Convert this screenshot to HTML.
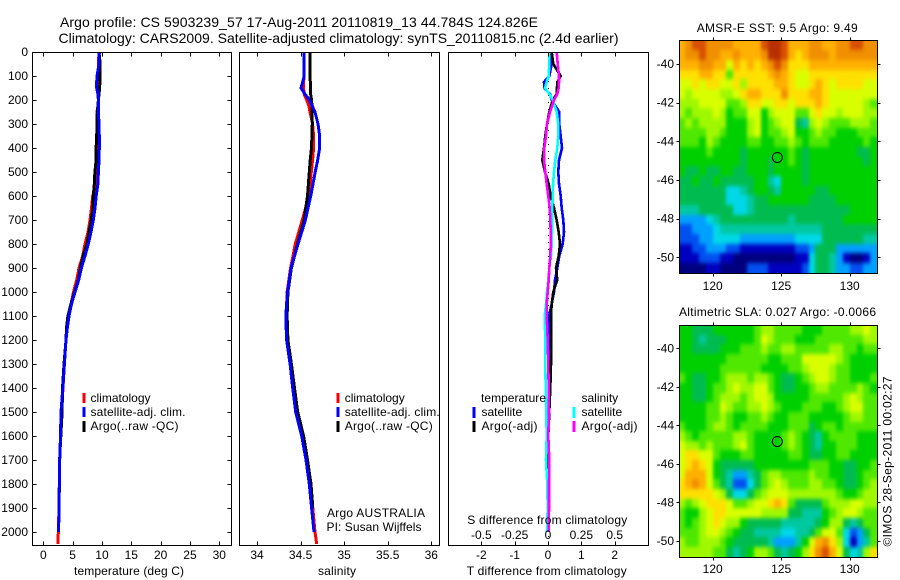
<!DOCTYPE html>
<html>
<head>
<meta charset="utf-8">
<title>Argo profile</title>
<style>
html,body{margin:0;padding:0;background:#fff;width:900px;height:580px;overflow:hidden}
svg{display:block}
text{font-family:"Liberation Sans",sans-serif;font-size:12px;fill:#000}
.t{font-size:14px}
</style>
</head>
<body>
<svg id="fig" xmlns="http://www.w3.org/2000/svg" width="900" height="580" viewBox="0 0 900 580">
  <defs>
    <filter id="map-smooth" filterUnits="userSpaceOnUse" x="660" y="20" width="230" height="550" color-interpolation-filters="sRGB">
      <feGaussianBlur stdDeviation="1.6 2.2"/>
      <feComponentTransfer><feFuncA type="discrete" tableValues="1 1"/></feComponentTransfer>
    </filter>
    <clipPath id="clip-sst-map"><rect x="679.5" y="40.5" width="198" height="233"/></clipPath>
    <clipPath id="clip-sla-map"><rect x="679.5" y="325.5" width="198" height="232"/></clipPath>
  </defs>
  <text class="t" x="60" y="27" textLength="478">Argo profile: CS 5903239_57 17-Aug-2011 20110819_13 44.784S 124.826E</text>
  <text class="t" x="58.5" y="43" textLength="560">Climatology: CARS2009. Satellite-adjusted climatology: synTS_20110815.nc (2.4d earlier)</text>

  <g id="layer-maps"></g>
  <g id="layer-lines"></g>
  <g id="layer-axes" shape-rendering="crispEdges"></g>

  <text x="74" y="575" textLength="110">temperature (deg C)</text>
  <text x="318" y="575" textLength="38">salinity</text>
  <text x="466.7" y="575" textLength="160">T difference from climatology</text>
  <text x="467.3" y="524" textLength="160">S difference from climatology</text>

  <g>
    <rect x="82.5" y="393" width="3" height="10" fill="#f00"/>
    <rect x="82.5" y="407" width="3" height="10" fill="#00f"/>
    <rect x="82.5" y="421" width="3" height="11" fill="#000"/>
    <text x="90.5" y="402">climatology</text>
    <text x="90.5" y="416" textLength="95">satellite-adj. clim.</text>
    <text x="90.5" y="430" textLength="88">Argo(..raw -QC)</text>
  </g>
  <g>
    <rect x="336.5" y="393" width="3" height="10" fill="#f00"/>
    <rect x="336.5" y="407" width="3" height="10" fill="#00f"/>
    <rect x="336.5" y="421" width="3" height="11" fill="#000"/>
    <text x="344.7" y="402">climatology</text>
    <text x="344.7" y="416" textLength="95">satellite-adj. clim.</text>
    <text x="344.7" y="430" textLength="88">Argo(..raw -QC)</text>
    <text x="327" y="517" textLength="98">Argo AUSTRALIA</text>
    <text x="326.5" y="531" textLength="95">PI: Susan Wijffels</text>
  </g>
  <g>
    <text x="481" y="402" textLength="65">temperature</text>
    <text x="581.5" y="402">salinity</text>
    <rect x="472.5" y="407" width="3" height="11" fill="#00f"/>
    <rect x="472.5" y="421" width="3" height="11" fill="#000"/>
    <rect x="572.5" y="407" width="3" height="11" fill="#0ff"/>
    <rect x="572.5" y="421" width="3" height="11" fill="#f0f"/>
    <text x="481.5" y="416">satellite</text>
    <text x="481.5" y="430" textLength="56">Argo(-adj)</text>
    <text x="581.5" y="416">satellite</text>
    <text x="581.5" y="430" textLength="56">Argo(-adj)</text>
  </g>

  <text x="696.7" y="32" textLength="161">AMSR-E SST: 9.5 Argo: 9.49</text>
  <text x="679" y="316" textLength="197">Altimetric SLA: 0.027 Argo: -0.0066</text>
  <text transform="translate(891.5,546.5) rotate(-90)" textLength="170">©IMOS 28-Sep-2011 00:02:27</text>
</svg>
<script>
const tempDepths = [0,50,100,125,150,175,200,225,250,300,350,400,450,500,550,600,650,700,750,800,850,900,950,1000,1050,1100,1150,1200,1300,1400,1500,1600,1700,1800,1900,2000,2050];
const tempClimatology = [9.5,9.4,9.4,9.4,9.4,9.4,9.4,9.3,9.15,9.3,9.3,9.3,9.3,9.2,9.0,8.42,8.22,7.96,7.62,7.1,6.72,6.08,5.69,5.15,4.72,4.3,4.04,3.87,3.6,3.36,3.1,2.96,2.8,2.73,2.68,2.56,2.5];
const tempSatellite = [9.55,9.5,9.15,9.1,9.1,9.3,9.4,9.4,9.4,9.5,9.55,9.55,9.5,9.4,9.3,9.02,8.81,8.52,8.13,7.67,7.1,6.5,6.03,5.4,4.8,4.38,4.09,3.87,3.6,3.32,3.02,2.93,2.8,2.73,2.68,2.6];
const tempArgo = [9.5,9.7,9.65,9.65,9.6,9.5,9.4,9.3,9.2,9.15,9.1,9.0,9.0,8.8,8.7,8.52,8.47,8.18,7.8,7.45,6.77,6.34,5.97,5.32,4.72,4.2,3.95,3.87,3.53,3.27,3.2,2.98,2.78,2.75,2.68,2.6];

const salDepths = [0,50,100,125,150,175,200,225,250,300,350,400,450,500,550,600,700,800,900,1000,1100,1200,1300,1400,1500,1600,1700,1800,1900,2000,2050];
const salClimatology = [34.54,34.54,34.54,34.535,34.535,34.54,34.57,34.596,34.608,34.638,34.65,34.65,34.638,34.623,34.61,34.596,34.52,34.44,34.385,34.345,34.335,34.35,34.385,34.425,34.46,34.52,34.57,34.61,34.64,34.665,34.685];
const salSatellite = [34.54,34.54,34.54,34.524,34.505,34.55,34.60,34.635,34.665,34.70,34.72,34.72,34.696,34.668,34.642,34.616,34.555,34.47,34.39,34.35,34.33,34.34,34.38,34.41,34.444,34.513,34.562,34.60,34.627,34.654];
const salArgo = [34.608,34.608,34.608,34.612,34.612,34.615,34.627,34.63,34.632,34.634,34.63,34.625,34.61,34.60,34.59,34.58,34.54,34.465,34.395,34.355,34.345,34.355,34.395,34.43,34.467,34.535,34.58,34.62,34.64];

const diffDepths = [0,50,100,125,150,175,200,250,300,350,400,450,500,550,600,650,700,750,800,850,900,950,1000,1050,1100,1200,1300,1400,1500,1600,1700,1800,1900,2000];
const diffTempSatellite = [.10,.11,.04,-.12,-.11,.06,.11,.34,.34,.38,.42,.33,.31,.33,.38,.41,.46,.48,.44,.34,.28,.21,.18,.11,.03,.04,.04,.03,.02,.01,.01,.01,.01,.02];
const diffTempArgo = [.11,.16,.38,.28,.27,.26,.14,.04,-.03,-.08,-.12,-.17,-.09,.02,.08,.18,.26,.32,.36,.32,.24,.28,.16,.11,.09,.10,.09,.07,.04,.01,.01,.01,.01];
const diffSalSatellite = [.01,.01,.005,-.01,-.0225,.01,.035,.065,.0775,.0775,.07,.055,.045,.0375,.035,.0325,.0325,.03,.0275,.0225,.01,.0025,-.0075,-.015,-.025,-.02,-.02,-.0175,-.0125,-.01,-.015,-.005,-.0025,-.0075];
const diffSalArgo = [.065,.0725,.0825,.0825,.08,.07,.045,.015,-.0075,-.015,-.0275,-.03,-.02,-.01,.0025,.0125,.0175,.02,.02,.0175,.01,.005,-.0025,-.01,-.01,-.0025,.0025,.005,.0075,.0025,.01,.0075,.0075,.005];

const depthTicks = [0,100,200,300,400,500,600,700,800,900,1000,1100,1200,1300,1400,1500,1600,1700,1800,1900,2000];
const tempTicks = [0,5,10,15,20,25,30];
const salTicks = [34,34.5,35,35.5,36];
const salTickLabels = ["34","34.5","35","35.5","36"];
const diffTempTicks = [-2,-1,0,1,2];
const diffTempTickLabels = ["-2","-1","0","1","2"];
const diffSalLabelTicks = [-0.5,-0.25,0,0.25,0.5];
const diffSalTickLabels = ["-0.5","-0.25","0","0.25","0.5"];
const lonTicks = [120,125,130];
const latTicks = [-40,-42,-44,-46,-48,-50];
const floatLon = 124.826;
const floatLat = -44.784;

/* colour-scale steps, 0 = coldest/lowest .. 15 = warmest/highest; one row per 0.5 deg lat, one column per 0.5 deg lon */
const sstGrid = [
[12,13,14,14,13,13,13,13,12,12,12,12,14,15,15,14,12,12,12,13,13,12,12,13,13,14,14,13,13],
[12,13,13,14,13,13,12,12,13,12,12,12,13,15,15,14,12,11,12,13,13,13,12,13,13,13,13,13,13],
[12,12,12,13,13,12,12,10,12,11,12,11,12,13,14,13,11,11,11,12,12,12,12,12,12,12,12,12,12],
[11,11,11,12,12,11,11,8,11,11,11,11,11,12,13,12,11,10,10,11,11,11,11,11,11,11,11,11,11],
[10,10,11,10,11,11,10,10,11,9,11,11,11,11,12,12,11,10,10,11,12,11,10,11,11,11,11,10,10],
[10,9,10,10,10,10,9,9,10,11,12,12,11,11,11,13,11,11,11,12,12,11,10,10,10,10,10,10,10],
[9,9,9,10,10,10,10,8,8,9,11,11,10,10,11,11,10,11,11,11,12,11,10,10,10,10,10,9,8],
[9,8,9,9,9,10,9,7,8,8,10,10,7,9,10,10,10,8,8,10,11,10,10,9,10,10,10,9,9],
[8,9,8,9,9,9,9,7,7,7,9,10,7,8,9,10,10,6,5,9,10,9,8,8,8,9,9,9,8],
[8,8,8,8,9,9,8,7,7,7,9,10,7,8,8,9,10,7,7,8,9,8,8,7,7,7,8,8,8],
[8,8,8,7,9,8,7,7,7,7,8,8,7,7,8,8,9,8,7,8,8,8,7,7,7,7,7,8,7],
[7,7,7,7,8,7,7,7,7,6,7,7,7,7,7,7,8,7,6,7,7,7,7,7,7,7,6,6,7],
[7,7,7,7,7,7,7,7,7,6,7,7,7,6,7,7,8,7,6,7,7,7,7,7,7,7,7,6,7],
[7,6,6,7,6,6,7,7,6,6,7,7,7,6,7,7,7,7,6,7,7,7,7,7,7,7,7,7,7],
[6,6,7,6,6,7,6,6,6,6,6,7,7,5,4,7,7,7,6,7,7,7,7,7,7,7,7,7,7],
[6,6,6,6,6,6,6,4,4,5,6,7,7,6,5,7,7,7,7,7,6,6,7,7,7,7,7,7,7],
[6,6,6,6,6,6,6,4,4,4,5,6,6,7,7,7,7,7,7,6,6,6,6,7,7,7,7,7,7],
[5,5,5,6,6,6,6,6,4,4,5,6,6,6,6,6,6,6,6,6,6,6,6,6,6,7,7,7,7],
[3,3,3,3,4,5,6,6,6,6,6,6,6,6,6,6,5,6,6,6,6,6,6,6,7,7,7,7,7],
[2,2,3,3,3,4,5,5,5,5,5,5,5,5,5,5,5,5,5,5,5,6,6,6,6,6,6,6,6],
[2,2,2,3,3,4,4,4,4,3,3,3,3,3,3,3,3,4,4,4,4,6,6,6,6,6,6,5,5],
[1,1,2,2,3,3,3,2,2,1,1,1,1,1,1,1,1,2,2,3,6,6,6,3,3,3,3,3,3],
[1,1,1,2,2,2,1,1,0,0,0,0,0,0,0,0,0,1,1,4,6,6,5,3,1,0,0,1,3],
[0,0,0,0,1,1,0,0,0,0,2,2,2,1,1,1,1,1,2,4,6,6,5,3,3,2,2,3,3]
];
const slaGrid = [
[7,7,6,6,6,7,7,7,7,7,7,8,9,9,8,8,8,8,7,7,7,8,8,8,8,9,9,10,9],
[7,7,6,5,6,6,6,7,7,7,7,8,10,9,8,8,8,7,7,7,8,8,8,8,8,8,8,9,9],
[7,7,6,6,6,6,7,7,7,8,8,8,9,8,8,9,9,8,8,8,8,8,9,9,8,8,7,8,8],
[7,7,7,7,7,7,7,8,8,8,8,8,8,7,7,8,8,8,10,10,10,10,10,9,8,7,7,7,7],
[7,7,7,7,7,7,8,8,8,8,8,8,7,7,7,7,8,8,9,10,10,10,9,8,8,7,7,7,7],
[8,7,6,6,7,7,8,9,9,9,8,9,9,8,7,6,6,7,8,9,10,10,9,8,8,7,7,7,8],
[7,7,6,6,7,8,8,9,10,9,9,10,10,8,7,6,6,7,7,8,9,9,8,8,8,8,9,8,7],
[7,7,6,6,7,8,9,9,9,8,9,10,10,9,7,7,7,7,7,8,8,8,8,8,9,10,9,8,8],
[7,7,7,7,8,8,10,9,8,8,9,9,10,9,8,7,7,7,8,8,8,7,7,8,9,10,10,8,8],
[7,7,7,7,8,8,9,8,7,7,8,8,9,8,7,7,8,8,8,7,7,7,7,7,8,9,9,8,8],
[8,7,7,7,8,9,9,8,7,8,8,8,8,7,7,7,8,8,8,6,7,8,8,7,8,8,8,8,8],
[9,8,7,8,8,8,8,8,9,9,8,7,7,7,7,8,9,8,7,6,5,7,8,8,8,8,7,7,7],
[10,9,9,8,9,8,8,8,9,10,8,7,7,7,7,8,9,8,7,6,5,7,7,8,8,8,7,7,7],
[10,11,11,10,10,8,7,7,7,8,8,7,7,7,7,7,8,8,7,6,6,7,7,8,8,7,7,7,7],
[10,11,12,11,10,7,6,6,6,6,6,7,7,7,7,7,7,7,7,8,8,8,7,7,6,6,7,7,8],
[10,12,12,12,10,7,6,5,3,3,5,6,8,9,9,8,8,8,8,9,8,8,7,7,6,6,7,8,8],
[11,12,13,12,10,8,6,5,2,2,4,6,8,9,10,9,8,8,8,9,9,8,8,7,6,6,7,8,9],
[11,11,11,11,11,10,9,6,4,4,6,8,9,10,10,10,9,9,9,9,9,9,9,8,7,7,8,9,9],
[9,8,9,10,11,11,11,10,8,8,9,10,10,11,12,11,8,6,6,6,6,8,9,9,9,10,10,9,9],
[8,7,7,9,10,11,11,10,10,10,10,10,9,9,9,9,6,6,5,5,5,7,8,9,10,10,9,8,8],
[8,7,8,9,10,11,10,9,9,7,6,6,6,6,6,5,5,5,5,5,6,7,9,9,6,5,6,8,8],
[8,8,8,9,10,10,9,8,7,6,6,5,5,5,5,4,4,5,5,6,8,10,10,8,4,2,3,6,8],
[9,8,8,9,9,9,8,7,6,6,6,6,6,5,3,3,3,5,7,10,12,13,11,9,4,1,3,5,8],
[9,9,9,9,9,8,8,6,5,6,7,9,9,8,6,5,6,7,9,11,13,14,12,10,6,4,5,9,11]
];
const gridFirstLon = 117.5;
const gridFirstLat = -38.8;
const gridStep = 0.5;
const colourScale = ["#00007f","#0000c0","#0050f0","#00a0ff","#00d8e8","#00c8a0","#00bc50","#00d000","#50e800","#a0f800","#d8ff00","#ffe000","#ffb000","#f09000","#d85000","#b83000"];

const NS = "http://www.w3.org/2000/svg";
const mapsLayer = document.getElementById("layer-maps");
const linesLayer = document.getElementById("layer-lines");
const axesLayer = document.getElementById("layer-axes");

function linear(d0, d1, r0, r1) {
  return function (v) { return r0 + (v - d0) * (r1 - r0) / (d1 - d0); };
}
const yDepth = linear(0, 2000, 52, 532);
const xTemp = linear(0, 30, 43.3, 219.3);
const xSal = linear(34, 36, 257, 431.3);
const xDiffT = linear(-2, 2, 481.3, 614.7);
const xDiffS = linear(-0.5, 0.5, 481.3, 614.7);
const xLon = linear(120, 130, 712.7, 849.7);
const ySstLat = linear(-40, -50, 64, 257.3);
const ySlaLat = linear(-40, -50, 348.3, 541);

function el(tag, attrs, parent) {
  const n = document.createElementNS(NS, tag);
  for (const k in attrs) n.setAttribute(k, attrs[k]);
  parent.appendChild(n);
  return n;
}
function tickLine(parent, name, x1, y1, x2, y2) {
  const n = el("line", {x1: x1, y1: y1, x2: x2, y2: y2, stroke: "#000", "stroke-width": 1}, parent);
  
  
}
function tickText(parent, name, x, y, anchor, s) {
  const n = el("text", {x: x, y: y, "text-anchor": anchor}, parent);
  n.textContent = s;
  
  
}
function frame(parent, name, x0, y0, x1, y1) {
  const n = el("rect", {x: x0, y: y0, width: x1 - x0, height: y1 - y0, fill: "none", stroke: "#000", "stroke-width": 1}, parent);
  
  
}
function profile(name, colour, xs, depths, xScale, width) {
  const pts = xs.map(function (v, i) { return xScale(v).toFixed(1) + "," + yDepth(depths[i]).toFixed(1); }).join(" ");
  const n = el("polyline", {points: pts, fill: "none", stroke: colour, "stroke-width": width, "shape-rendering": "crispEdges", "stroke-linejoin": "round"}, linesLayer);
  
  
}

/* profile panels */
const panelTop = 52.5, panelBottom = 545.5;
const panels = [
  {name: "temperature-panel", x0: 32.5, x1: 231.5},
  {name: "salinity-panel", x0: 239.5, x1: 439.5},
  {name: "difference-panel", x0: 448.5, x1: 648.5}
];
panels.forEach(function (p) { frame(axesLayer, p.name + "-frame", p.x0, panelTop, p.x1, panelBottom); });

depthTicks.forEach(function (d) {
  const y = Math.round(yDepth(d)) + 0.5;
  tickLine(axesLayer, "depth-tick-left", 32.5, y, 36.5, y);
  tickLine(axesLayer, "depth-tick-right", 227.5, y, 231.5, y);
  tickText(axesLayer, "depth-tick-label", 28, yDepth(d) + 4, "end", String(d));
});
function xTicks(ticks, labels, scale, prefix) {
  ticks.forEach(function (t, i) {
    const x = Math.round(scale(t)) + 0.5;
    tickLine(axesLayer, prefix + "-tick-top", x, panelTop, x, panelTop + 4);
    tickLine(axesLayer, prefix + "-tick-bottom", x, panelBottom - 4, x, panelBottom);
    tickText(axesLayer, prefix + "-tick-label", scale(t), 559, "middle", labels[i]);
  });
}
xTicks(tempTicks, tempTicks.map(String), xTemp, "temperature");
xTicks(salTicks, salTickLabels, xSal, "salinity");
xTicks(diffTempTicks, diffTempTickLabels, xDiffT, "t-difference");
diffSalLabelTicks.forEach(function (t, i) {
  tickText(axesLayer, "s-difference-tick-label", xDiffS(t), 539, "middle", diffSalTickLabels[i]);
});

const zeroLine = el("line", {x1: 548.5, y1: 53, x2: 548.5, y2: 545, stroke: "#000", "stroke-width": 1, "stroke-dasharray": "1 6"}, linesLayer);



profile("temperature-climatology-line", "#f00", tempClimatology, tempDepths, xTemp, 3);
profile("temperature-argo-line", "#000", tempArgo, tempDepths, xTemp, 3);
profile("temperature-satellite-line", "#00f", tempSatellite, tempDepths, xTemp, 3);
profile("salinity-climatology-line", "#f00", salClimatology, salDepths, xSal, 3);
profile("salinity-argo-line", "#000", salArgo, salDepths, xSal, 3);
profile("salinity-satellite-line", "#00f", salSatellite, salDepths, xSal, 3);
profile("t-difference-satellite-line", "#00f", diffTempSatellite, diffDepths, xDiffT, 2.6);
profile("t-difference-argo-line", "#000", diffTempArgo, diffDepths, xDiffT, 2.6);
profile("s-difference-satellite-line", "#0ff", diffSalSatellite, diffDepths, xDiffS, 2.6);
profile("s-difference-argo-line", "#f0f", diffSalArgo, diffDepths, xDiffS, 2.6);

/* maps */
function drawMap(prefix, grid, yLat, top, bottom, labelY, clipId) {
  const clipGroup = el("g", {"clip-path": "url(#" + clipId + ")"}, mapsLayer);
  
  
  const group = el("g", {"shape-rendering": "crispEdges", filter: "url(#map-smooth)"}, clipGroup);
  
  
  grid.forEach(function (row, r) {
    row.forEach(function (v, c) {
      const x0 = Math.round(xLon(gridFirstLon + c * gridStep));
      const x1 = Math.round(xLon(gridFirstLon + (c + 1) * gridStep));
      const y0 = Math.round(yLat(gridFirstLat - r * gridStep));
      const y1 = Math.round(yLat(gridFirstLat - (r + 1) * gridStep));
      const cell = el("rect", {x: x0, y: y0, width: x1 - x0, height: y1 - y0, fill: colourScale[v]}, group);
      
      
    });
  });
  const axes = el("g", {"shape-rendering": "crispEdges"}, mapsLayer);
  
  
  frame(axes, prefix + "-frame", 679.5, top, 877.5, bottom);
  lonTicks.forEach(function (lon) {
    const x = Math.round(xLon(lon)) + 0.5;
    tickLine(axes, prefix + "-lon-tick-top", x, top - 3, x, top);
    tickLine(axes, prefix + "-lon-tick-bottom", x, bottom, x, bottom + 3);
    tickText(axes, prefix + "-lon-tick-label", xLon(lon), labelY, "middle", String(lon));
  });
  latTicks.forEach(function (lat) {
    const y = Math.round(yLat(lat)) + 0.5;
    tickLine(axes, prefix + "-lat-tick-left", 676.5, y, 679.5, y);
    tickLine(axes, prefix + "-lat-tick-right", 877.5, y, 880.5, y);
    tickText(axes, prefix + "-lat-tick-label", 674, yLat(lat) + 4, "end", String(lat));
  });
  const marker = el("circle", {cx: xLon(floatLon) - 1.5, cy: yLat(floatLat) + 1, r: 5, fill: "none", stroke: "#000", "stroke-width": 1}, mapsLayer);
  
  
}
drawMap("sst-map", sstGrid, ySstLat, 40.5, 273.5, 290, "clip-sst-map");
drawMap("sla-map", slaGrid, ySlaLat, 325.5, 557.5, 573, "clip-sla-map");
</script>
</body>
</html>
